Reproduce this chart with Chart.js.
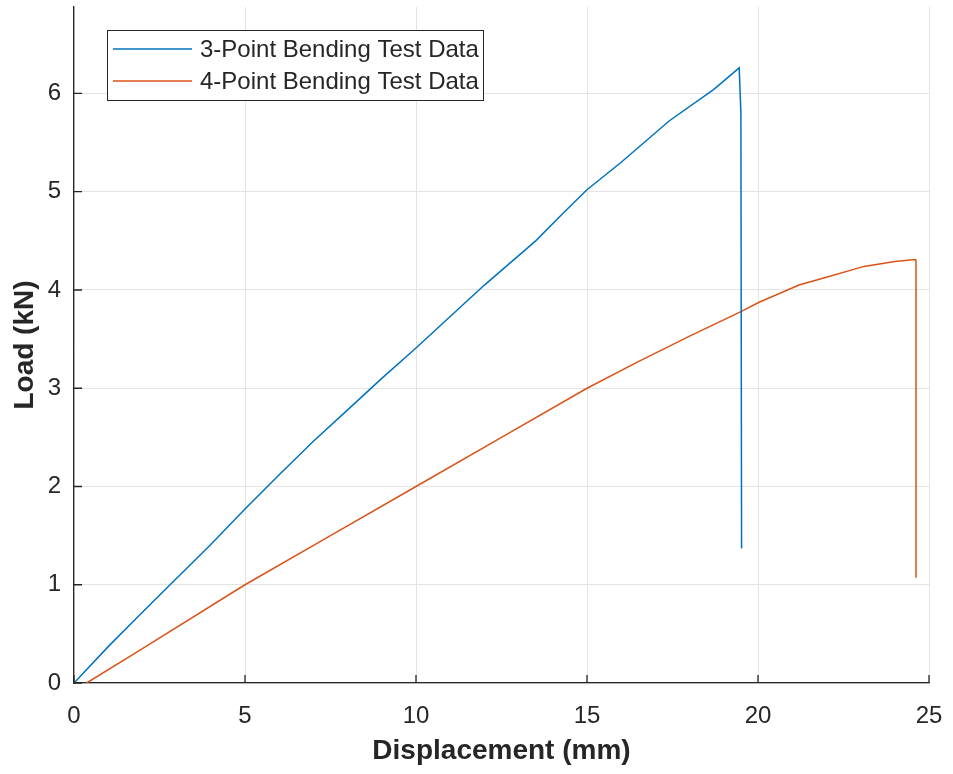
<!DOCTYPE html>
<html>
<head>
<meta charset="utf-8">
<script src="https://cdn.jsdelivr.net/npm/chart.js@4/dist/chart.umd.min.js"></script>
<style>
  body { margin: 0; background: #fff; }
</style>
</head>
<body>
<canvas id="myChart" width="953" height="774"></canvas>
<script>
// 3-point bending test
const disp3 = [0, 1, 2, 2.81, 4, 5, 6, 7, 8, 9, 10, 11, 12, 13.5, 14.3, 15, 16, 17.4, 18.7, 19.45, 19.5, 19.52];
const load3 = [0, 0.37, 0.72, 1.0, 1.41, 1.77, 2.12, 2.46, 2.78, 3.1, 3.41, 3.73, 4.05, 4.5, 4.78, 5.02, 5.3, 5.72, 6.04, 6.26, 5.8, 1.37];

// 4-point bending test
const disp4 = [0.37, 2, 5, 7.5, 10, 12.5, 15, 16.5, 18, 19.5, 20, 21.2, 22, 23.1, 24, 24.6, 24.62, 24.62];
const load4 = [0, 0.35, 1.0, 1.5, 2.0, 2.5, 3.0, 3.27, 3.53, 3.78, 3.87, 4.05, 4.13, 4.24, 4.29, 4.31, 4.3, 1.07];

const seriesLabels = ['3-Point Bending Test Data', '4-Point Bending Test Data'];
const xTicks = [0, 5, 10, 15, 20, 25];
const yTicks = [0, 1, 2, 3, 4, 5, 6];

const FONT = "'Liberation Sans', Arial, Helvetica, sans-serif";
const TXT = '#262626';

function pts(xs, ys) {
    return xs.map((x, i) => ({ x: x, y: ys[i] }));
}

// short inward ticks like MATLAB, plus the legend box inside the axes
const axisDecor = {
    id: 'axisDecor',
    afterDraw(chart) {
        const ctx = chart.ctx;
        const xs = chart.scales.x, ys = chart.scales.y;
        const a = chart.chartArea;
        ctx.save();
        ctx.strokeStyle = TXT;
        ctx.lineWidth = 1.3;
        ctx.beginPath();
        xTicks.forEach(v => {
            const px = xs.getPixelForValue(v);
            ctx.moveTo(px, a.bottom);
            ctx.lineTo(px, a.bottom - 8);
        });
        yTicks.forEach(v => {
            const py = ys.getPixelForValue(v);
            ctx.moveTo(a.left, py);
            ctx.lineTo(a.left + 8, py);
        });
        ctx.stroke();

        // legend
        const bx = 107, by = 30, bw = 376, bh = 70;
        ctx.fillStyle = '#fff';
        ctx.fillRect(bx, by, bw, bh);
        ctx.lineWidth = 1;
        ctx.strokeStyle = TXT;
        ctx.strokeRect(bx + 0.5, by + 0.5, bw, bh);
        ctx.font = '24px ' + FONT;
        ctx.textBaseline = 'middle';
        chart.data.datasets.forEach((ds, i) => {
            const ly = 49 + i * 32;
            ctx.strokeStyle = ds.borderColor;
            ctx.lineWidth = 1.5;
            ctx.beginPath();
            ctx.moveTo(113, ly);
            ctx.lineTo(192, ly);
            ctx.stroke();
            ctx.fillStyle = TXT;
            ctx.fillText(ds.label, 200, ly + 1);
        });
        ctx.restore();
    }
};

const data = {
    datasets: [{
        label: seriesLabels[0],
        data: pts(disp3, load3),
        borderColor: '#0072BD',
        borderWidth: 1.5,
        pointRadius: 0,
        tension: 0
    }, {
        label: seriesLabels[1],
        data: pts(disp4, load4),
        borderColor: '#D95319',
        borderWidth: 1.5,
        pointRadius: 0,
        tension: 0
    }]
};

const config = {
    type: 'line',
    data: data,
    options: {
        responsive: false,
        animation: false,
        layout: { padding: { top: 7, right: 24, bottom: 0, left: 0 } },
        plugins: {
            legend: { display: false },
            tooltip: { enabled: false }
        },
        scales: {
            x: {
                type: 'linear',
                min: 0,
                max: 25,
                afterFit: s => { s.height = 91; s.paddingLeft = 0; s.paddingRight = 0; },
                afterBuildTicks: s => { s.ticks = xTicks.map(v => ({ value: v })); },
                grid: { color: '#e3e3e3', lineWidth: 1, drawTicks: false },
                border: { color: TXT, width: 1.3 },
                ticks: { padding: 19, color: TXT, font: { family: FONT, size: 24 }, maxRotation: 0 },
                title: {
                    display: true,
                    text: 'Displacement (mm)',
                    color: TXT,
                    font: { family: FONT, size: 28, weight: 'bold' },
                    padding: { top: 0, bottom: 6 }
                }
            },
            y: {
                type: 'linear',
                min: 0,
                max: 6.88,
                afterFit: s => { s.width = 74; s.paddingTop = 0; s.paddingBottom = 0; },
                afterBuildTicks: s => { s.ticks = yTicks.map(v => ({ value: v })); },
                grid: { color: '#e3e3e3', lineWidth: 1, drawTicks: false },
                border: { color: TXT, width: 1.3 },
                ticks: { padding: 13, color: TXT, font: { family: FONT, size: 24 } },
                title: {
                    display: true,
                    text: 'Load (kN)',
                    color: TXT,
                    font: { family: FONT, size: 28, weight: 'bold' },
                    padding: { top: 8, bottom: 0 }
                }
            }
        }
    },
    plugins: [axisDecor]
};

var myChart = new Chart(
    document.getElementById('myChart'),
    config
);
</script>
</body>
</html>
